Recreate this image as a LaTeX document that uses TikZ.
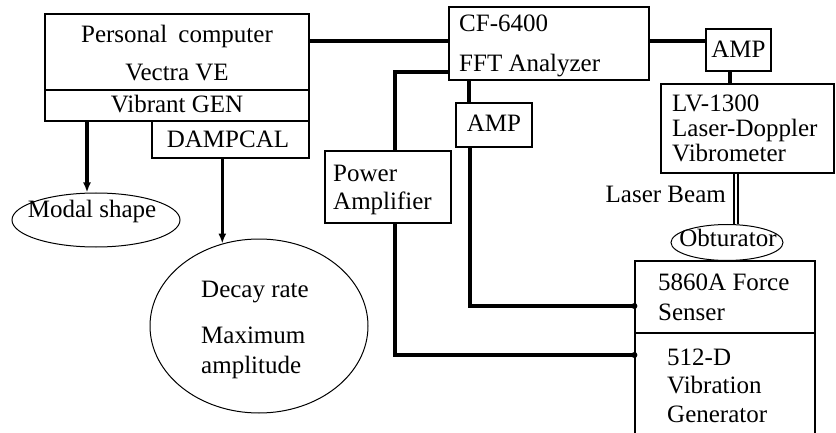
\documentclass[tikz,border=0pt]{standalone}
\usepackage{fontspec}
\setmainfont{Liberation Serif}
\usetikzlibrary{arrows.meta,shapes.geometric}
\begin{document}
\begin{tikzpicture}[x=1pt,y=-1pt,
  box/.style={draw, line width=1.2pt, rectangle, inner sep=0pt},
  oval/.style={draw, line width=1pt, ellipse, inner sep=0pt},
  lbl/.style={inner sep=0pt, font=\fontsize{25}{30}\selectfont},
  wire/.style={line width=3.2pt},
  arr/.style={line width=3.2pt, -{Latex[length=10pt,width=8pt]}},
  dotc/.style={fill, circle, inner sep=0pt, minimum size=6pt},
]
\useasboundingbox (0,0) rectangle (836,433);

% boxes
\node[box, minimum width=264pt, minimum height=76pt] (pc) at (177,52) {};
\node[box, minimum width=264pt, minimum height=31pt] (gen) at (177,105.5) {};
\node[box, minimum width=157pt, minimum height=37pt] (damp) at (230.5,139.5) {};
\node[box, minimum width=200pt, minimum height=73pt] (cf) at (549,43.5) {};
\node[box, minimum width=65pt, minimum height=42pt] (ampr) at (738.5,50) {};
\node[box, minimum width=173pt, minimum height=89pt] (lv) at (747.5,128.5) {};
\node[box, minimum width=76pt, minimum height=44pt] (ampl) at (494,125) {};
\node[box, minimum width=126pt, minimum height=72pt] (pa) at (388,187) {};
\node[box, minimum width=180pt, minimum height=72pt] (fs) at (725,297) {};
\node[box, minimum width=180pt, minimum height=120pt] (vg) at (725,393) {};
\node[oval, minimum width=112pt, minimum height=36pt] (obt) at (727,242.5) {};
\node[oval, minimum width=168pt, minimum height=54pt] (modal) at (96,220) {};
\node[oval, minimum width=218pt, minimum height=174pt] (decay) at (259,326) {};

% texts
\node[lbl, anchor=base] (t1) at (177,43) {Personal\hspace{0.45em}computer};
\node[lbl, anchor=base] (t2) at (177,81) {Vectra VE};
\node[lbl, anchor=base] (t3) at (177,113) {Vibrant GEN};
\node[lbl, anchor=base] (t4) at (228,148) {DAMPCAL};
\node[lbl, anchor=base west] (t5) at (459,32) {CF-6400};
\node[lbl, anchor=base west] (t6) at (459,72) {FFT Analyzer};
\node[lbl, anchor=base] (t7) at (738.5,58) {AMP};
\node[lbl, anchor=base] (t8) at (494,132) {AMP};
\node[lbl, anchor=base west] (t9) at (672,112) {LV-1300};
\node[lbl, anchor=base west] (t10) at (672,137) {Laser-Doppler};
\node[lbl, anchor=base west] (t11) at (672,162) {Vibrometer};
\node[lbl, anchor=base east] (t12) at (726,203) {Laser Beam};
\node[lbl, anchor=base] (t13) at (728,247) {Obturator};
\node[lbl, anchor=base west] (t14) at (333,182) {Power};
\node[lbl, anchor=base west] (t15) at (333,210) {Amplifier};
\node[lbl, anchor=base west] (t16) at (658,290) {5860A Force};
\node[lbl, anchor=base west] (t17) at (658,320) {Senser};
\node[lbl, anchor=base west] (t18) at (667,365) {512-D};
\node[lbl, anchor=base west] (t19) at (667,393) {Vibration};
\node[lbl, anchor=base west] (t20) at (667,422) {Generator};
\node[lbl, anchor=base] (t21) at (92,218) {Modal shape};
\node[lbl, anchor=base west] (t22) at (201,297) {Decay rate};
\node[lbl, anchor=base west] (t23) at (201,343) {Maximum};
\node[lbl, anchor=base west] (t24) at (201,373) {amplitude};

% connectors
\draw[wire] (pc.east |- 0,41) -- (cf.west |- 0,41);
\draw[wire] (pa.north -| 395,0) |- (cf.west |- 0,72);
\draw[wire] (cf.east |- 0,41) -- (ampr.west |- 0,41);
\draw[wire] (ampr.south -| 730,0) -- (lv.north -| 730,0);
\draw[wire] (cf.south -| 469,0) -- (ampl.north -| 469,0);
\draw[wire] (ampl.south -| 470,0) |- (fs.west |- 0,306);
\node[dotc] (d1) at (fs.west |- 0,306) {};
\draw[wire] (pa.south -| 395,0) |- (vg.west |- 0,355);
\node[dotc] (d2) at (vg.west |- 0,355) {};
\draw[line width=2.2pt, double, double distance=1.2pt] (lv.south -| 736,0) -- (obt.north -| 736,0);
\draw[arr] (gen.south -| 87,0) -- (modal.north -| 87,0);
\draw[arr] (damp.south -| decay.114) -- (decay.114);
\end{tikzpicture}
\end{document}
